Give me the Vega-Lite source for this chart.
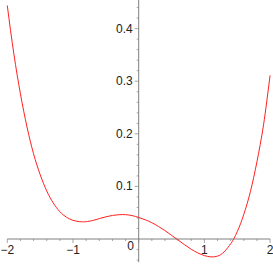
{
  "$schema": "https://vega.github.io/schema/vega-lite/v6.json",
  "width": 273,
  "height": 264,
  "autosize": "none",
  "padding": 0,
  "background": "white",
  "config": {"view": {"stroke": null}},
  "datasets": {
    "curve": [
      {"x": -2.0, "y": 0.444}, {"x": -1.95, "y": 0.396}, {"x": -1.9, "y": 0.352}, {"x": -1.85, "y": 0.312},
      {"x": -1.8, "y": 0.276}, {"x": -1.75, "y": 0.243}, {"x": -1.7, "y": 0.213}, {"x": -1.65, "y": 0.186},
      {"x": -1.6, "y": 0.162}, {"x": -1.55, "y": 0.141}, {"x": -1.5, "y": 0.1225}, {"x": -1.45, "y": 0.106},
      {"x": -1.4, "y": 0.0915}, {"x": -1.35, "y": 0.079}, {"x": -1.3, "y": 0.0685}, {"x": -1.25, "y": 0.0595},
      {"x": -1.2, "y": 0.052}, {"x": -1.15, "y": 0.046}, {"x": -1.1, "y": 0.0415}, {"x": -1.05, "y": 0.038},
      {"x": -1.0, "y": 0.0355}, {"x": -0.95, "y": 0.034}, {"x": -0.9, "y": 0.033}, {"x": -0.85, "y": 0.0327},
      {"x": -0.8, "y": 0.033}, {"x": -0.7, "y": 0.0352}, {"x": -0.6, "y": 0.0388}, {"x": -0.5, "y": 0.0422},
      {"x": -0.4, "y": 0.0448}, {"x": -0.3, "y": 0.0462}, {"x": -0.2, "y": 0.0463}, {"x": -0.1, "y": 0.0445},
      {"x": 0.0, "y": 0.041}, {"x": 0.1, "y": 0.0365}, {"x": 0.2, "y": 0.031}, {"x": 0.3, "y": 0.024},
      {"x": 0.4, "y": 0.016}, {"x": 0.5, "y": 0.007}, {"x": 0.6, "y": -0.002}, {"x": 0.7, "y": -0.011},
      {"x": 0.8, "y": -0.0195}, {"x": 0.9, "y": -0.0265}, {"x": 1.0, "y": -0.0315}, {"x": 1.1, "y": -0.034},
      {"x": 1.2, "y": -0.0325}, {"x": 1.3, "y": -0.0245}, {"x": 1.4, "y": -0.009}, {"x": 1.45, "y": 0.001},
      {"x": 1.5, "y": 0.014}, {"x": 1.55, "y": 0.029}, {"x": 1.6, "y": 0.047}, {"x": 1.65, "y": 0.067},
      {"x": 1.7, "y": 0.09}, {"x": 1.75, "y": 0.117}, {"x": 1.8, "y": 0.147}, {"x": 1.85, "y": 0.18},
      {"x": 1.9, "y": 0.217}, {"x": 1.95, "y": 0.2625}, {"x": 2.0, "y": 0.311}
    ],
    "xmajor": [{"v": -2}, {"v": -1}, {"v": 0}, {"v": 1}, {"v": 2}],
    "xminor": [
      {"v": -1.8}, {"v": -1.6}, {"v": -1.4}, {"v": -1.2}, {"v": -0.8}, {"v": -0.6}, {"v": -0.4}, {"v": -0.2},
      {"v": 0.2}, {"v": 0.4}, {"v": 0.6}, {"v": 0.8}, {"v": 1.2}, {"v": 1.4}, {"v": 1.6}, {"v": 1.8}
    ],
    "xlabels": [{"v": -2}, {"v": -1}, {"v": 1}, {"v": 2}],
    "zerolabel": [{"v": 0}],
    "ymajor": [{"v": 0.1}, {"v": 0.2}, {"v": 0.3}, {"v": 0.4}],
    "yminor": [
      {"v": -0.04}, {"v": -0.02}, {"v": 0.02}, {"v": 0.04}, {"v": 0.06}, {"v": 0.08},
      {"v": 0.12}, {"v": 0.14}, {"v": 0.16}, {"v": 0.18}, {"v": 0.22}, {"v": 0.24},
      {"v": 0.26}, {"v": 0.28}, {"v": 0.32}, {"v": 0.34}, {"v": 0.36}, {"v": 0.38},
      {"v": 0.42}, {"v": 0.44}
    ]
  },
  "layer": [
    {
      "data": {"values": [{"a": -2, "b": 2}]},
      "mark": {"type": "rule", "color": "#808080", "strokeWidth": 1},
      "encoding": {
        "x": {"field": "a", "type": "quantitative", "scale": {"domain": [-2.111, 2.044], "nice": false, "zero": false}, "axis": null},
        "x2": {"field": "b"},
        "y": {"datum": 0, "type": "quantitative", "scale": {"domain": [-0.0475, 0.4544], "nice": false, "zero": false}, "axis": null}
      }
    },
    {
      "data": {"values": [{"a": -0.044, "b": 0.4544}]},
      "mark": {"type": "rule", "color": "#808080", "strokeWidth": 1},
      "encoding": {
        "x": {"datum": 0, "type": "quantitative", "scale": {"domain": [-2.111, 2.044], "nice": false, "zero": false}, "axis": null},
        "y": {"field": "a", "type": "quantitative", "scale": {"domain": [-0.0475, 0.4544], "nice": false, "zero": false}, "axis": null},
        "y2": {"field": "b"}
      }
    },
    {
      "data": {"name": "xmajor"},
      "mark": {"type": "tick", "orient": "vertical", "color": "#808080", "size": 4, "thickness": 1, "yOffset": 2},
      "encoding": {
        "x": {"field": "v", "type": "quantitative", "scale": {"domain": [-2.111, 2.044], "nice": false, "zero": false}, "axis": null},
        "y": {"datum": 0, "type": "quantitative", "scale": {"domain": [-0.0475, 0.4544], "nice": false, "zero": false}, "axis": null}
      }
    },
    {
      "data": {"name": "xminor"},
      "mark": {"type": "tick", "orient": "vertical", "color": "#808080", "size": 2, "thickness": 1, "yOffset": 1},
      "encoding": {
        "x": {"field": "v", "type": "quantitative", "scale": {"domain": [-2.111, 2.044], "nice": false, "zero": false}, "axis": null},
        "y": {"datum": 0, "type": "quantitative", "scale": {"domain": [-0.0475, 0.4544], "nice": false, "zero": false}, "axis": null}
      }
    },
    {
      "data": {"name": "ymajor"},
      "mark": {"type": "tick", "orient": "horizontal", "color": "#808080", "size": 4, "thickness": 1, "xOffset": -2},
      "encoding": {
        "x": {"datum": 0, "type": "quantitative", "scale": {"domain": [-2.111, 2.044], "nice": false, "zero": false}, "axis": null},
        "y": {"field": "v", "type": "quantitative", "scale": {"domain": [-0.0475, 0.4544], "nice": false, "zero": false}, "axis": null}
      }
    },
    {
      "data": {"name": "yminor"},
      "mark": {"type": "tick", "orient": "horizontal", "color": "#808080", "size": 2, "thickness": 1, "xOffset": -1},
      "encoding": {
        "x": {"datum": 0, "type": "quantitative", "scale": {"domain": [-2.111, 2.044], "nice": false, "zero": false}, "axis": null},
        "y": {"field": "v", "type": "quantitative", "scale": {"domain": [-0.0475, 0.4544], "nice": false, "zero": false}, "axis": null}
      }
    },
    {
      "data": {"name": "curve"},
      "mark": {"type": "line", "color": "#ff2020", "strokeWidth": 1, "interpolate": "natural"},
      "encoding": {
        "x": {"field": "x", "type": "quantitative", "scale": {"domain": [-2.111, 2.044], "nice": false, "zero": false}, "axis": null},
        "y": {"field": "y", "type": "quantitative", "scale": {"domain": [-0.0475, 0.4544], "nice": false, "zero": false}, "axis": null}
      }
    },
    {
      "data": {"name": "xlabels"},
      "mark": {"type": "text", "font": "Liberation Sans", "fontSize": 12, "color": "#222222", "align": "center", "baseline": "middle", "dy": 10.5},
      "encoding": {
        "x": {"field": "v", "type": "quantitative", "scale": {"domain": [-2.111, 2.044], "nice": false, "zero": false}, "axis": null},
        "y": {"datum": 0, "type": "quantitative", "scale": {"domain": [-0.0475, 0.4544], "nice": false, "zero": false}, "axis": null},
        "text": {"field": "v", "type": "quantitative", "format": "d"}
      }
    },
    {
      "data": {"name": "zerolabel"},
      "mark": {"type": "text", "font": "Liberation Sans", "fontSize": 12, "color": "#222222", "align": "center", "baseline": "middle", "dx": -8, "dy": 6.5},
      "encoding": {
        "x": {"field": "v", "type": "quantitative", "scale": {"domain": [-2.111, 2.044], "nice": false, "zero": false}, "axis": null},
        "y": {"datum": 0, "type": "quantitative", "scale": {"domain": [-0.0475, 0.4544], "nice": false, "zero": false}, "axis": null},
        "text": {"field": "v", "type": "quantitative", "format": "d"}
      }
    },
    {
      "data": {"name": "ymajor"},
      "mark": {"type": "text", "font": "Liberation Sans", "fontSize": 12, "color": "#222222", "align": "right", "baseline": "middle", "dx": -6},
      "encoding": {
        "x": {"datum": 0, "type": "quantitative", "scale": {"domain": [-2.111, 2.044], "nice": false, "zero": false}, "axis": null},
        "y": {"field": "v", "type": "quantitative", "scale": {"domain": [-0.0475, 0.4544], "nice": false, "zero": false}, "axis": null},
        "text": {"field": "v", "type": "quantitative", "format": ".1f"}
      }
    }
  ]
}
